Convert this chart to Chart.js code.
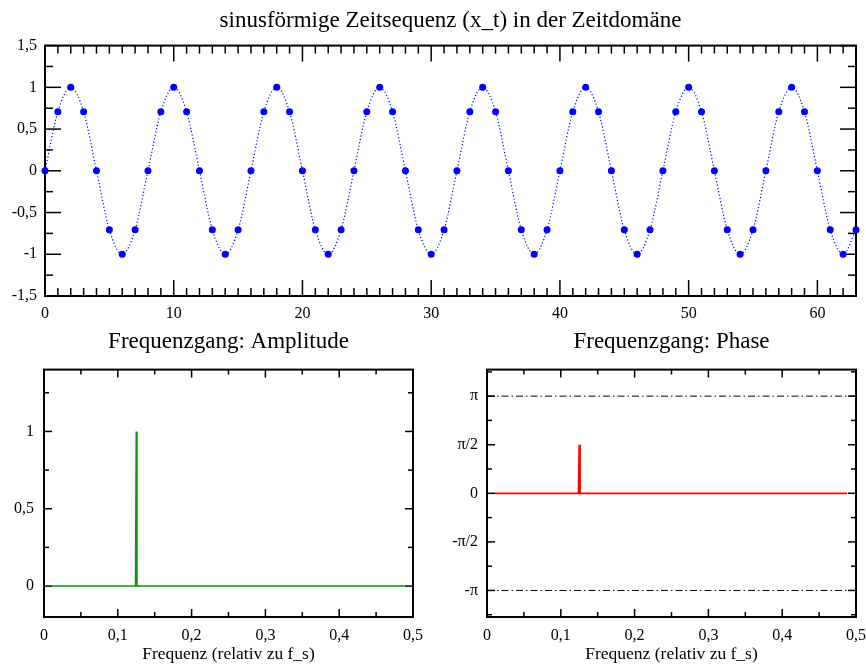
<!DOCTYPE html>
<html>
<head>
<meta charset="utf-8">
<title>Sinus-Zeitsequenz und Frequenzgang</title>
<script src="https://cdn.jsdelivr.net/npm/chart.js@4.4.1/dist/chart.umd.min.js"></script>
<style>
  html, body { margin: 0; padding: 0; background: #fff; }
  #page { position: relative; width: 866px; height: 669px; overflow: hidden; }
  .box { position: absolute; }
  #timeBox  { left: 0;     top: 0;     width: 876px; height: 325px; }
  #ampBox   { left: 0;     top: 325px; width: 433px; height: 344px; }
  #phaseBox { left: 433px; top: 325px; width: 443px; height: 344px; }
</style>
</head>
<body>
<div id="page">
  <div class="box" id="timeBox"><canvas id="timeChart"></canvas></div>
  <div class="box" id="ampBox"><canvas id="ampChart"></canvas></div>
  <div class="box" id="phaseBox"><canvas id="phaseChart"></canvas></div>
</div>
<script>
// ---- data ----
// sample index n and sampled sinusoid x_t (8 samples per period)
const sampleIndex = [
   0,  1,  2,  3,  4,  5,  6,  7,  8,  9, 10, 11, 12, 13, 14, 15,
  16, 17, 18, 19, 20, 21, 22, 23, 24, 25, 26, 27, 28, 29, 30, 31,
  32, 33, 34, 35, 36, 37, 38, 39, 40, 41, 42, 43, 44, 45, 46, 47,
  48, 49, 50, 51, 52, 53, 54, 55, 56, 57, 58, 59, 60, 61, 62, 63
];
const xt = [
  0, 0.7071, 1, 0.7071, 0, -0.7071, -1, -0.7071,
  0, 0.7071, 1, 0.7071, 0, -0.7071, -1, -0.7071,
  0, 0.7071, 1, 0.7071, 0, -0.7071, -1, -0.7071,
  0, 0.7071, 1, 0.7071, 0, -0.7071, -1, -0.7071,
  0, 0.7071, 1, 0.7071, 0, -0.7071, -1, -0.7071,
  0, 0.7071, 1, 0.7071, 0, -0.7071, -1, -0.7071,
  0, 0.7071, 1, 0.7071, 0, -0.7071, -1, -0.7071,
  0, 0.7071, 1, 0.7071, 0, -0.7071, -1, -0.7071
];

// amplitude response over normalised frequency
const ampFreq  = [0.010, 0.124, 0.125, 0.126, 0.489];
const ampValue = [0,     0,     1,     0,     0];

// phase response over normalised frequency
const phaseFreq  = [0.011, 0.124, 0.125,       0.126, 0.488];
const phaseValue = [0,     0,     Math.PI / 2, 0,     0];

// horizontal reference lines at +pi and -pi
const phaseLimitFreq = [0, 0.5];
const phaseLimits    = [Math.PI, -Math.PI];

// tick labels
const timeXTicks  = [0, 10, 20, 30, 40, 50, 60];
const timeYTicks  = [-1.5, -1, -0.5, 0, 0.5, 1, 1.5];
const freqTicks   = [0, 0.1, 0.2, 0.3, 0.4, 0.5];
const ampYTicks   = [0, 0.5, 1];
const phaseYTicks = [-Math.PI, -Math.PI / 2, 0, Math.PI / 2, Math.PI];
const phaseYLabels = ['-π', '-π/2', '0', 'π/2', 'π'];

// ---- helpers ----
const pairs = (xs, ys) => xs.map((v, i) => ({ x: v, y: ys[i] }));
const comma = v => String(Math.round(v * 1000) / 1000).replace('.', ',');
const fixedTicks = values => scale => { scale.ticks = values.map(v => ({ value: v })); };

Chart.defaults.font.family = '"Liberation Serif", "DejaVu Serif", serif';
Chart.defaults.color = '#000';

// frame around the plot area with inward tick marks on all four sides
const frameTicks = {
  id: 'frameTicks',
  beforeDatasetsDraw(chart, args, opts) {
    const { ctx, chartArea: a, scales } = chart;
    const xs = scales.x, ys = scales.y;
    const minorValues = (scale, step) => {
      const out = [];
      if (!step) return out;
      const k0 = Math.ceil(scale.min / step - 1e-9), k1 = Math.floor(scale.max / step + 1e-9);
      for (let k = k0; k <= k1; k++) out.push(k * step);
      return out;
    };
    const isMajor = (scale, v) => scale.ticks.some(t => Math.abs(t.value - v) < 1e-6);
    ctx.save();
    ctx.strokeStyle = '#000';
    ctx.lineWidth = opts.tickWidth;
    const seg = (x0, y0, x1, y1) => { ctx.beginPath(); ctx.moveTo(x0, y0); ctx.lineTo(x1, y1); ctx.stroke(); };
    const tickX = (v, len) => {
      const p = xs.getPixelForValue(v);
      seg(p, a.top, p, a.top + len);
      seg(p, a.bottom, p, a.bottom - len);
    };
    const tickY = (v, len) => {
      const p = ys.getPixelForValue(v);
      seg(a.left, p, a.left + len, p);
      seg(a.right, p, a.right - len, p);
    };
    minorValues(xs, opts.xMinor).forEach(v => { if (!isMajor(xs, v)) tickX(v, opts.minorLen); });
    minorValues(ys, opts.yMinor).forEach(v => { if (!isMajor(ys, v)) tickY(v, opts.minorLen); });
    xs.ticks.forEach(t => tickX(t.value, opts.majorLen));
    ys.ticks.forEach(t => tickY(t.value, opts.majorLen));
    ctx.lineWidth = opts.frameWidth;
    ctx.strokeRect(a.left, a.top, a.right - a.left, a.bottom - a.top);
    ctx.restore();
  }
};

const baseOptions = () => ({
  responsive: true,
  maintainAspectRatio: false,
  animation: false,
  devicePixelRatio: 1,
  events: [],
  plugins: { legend: { display: false }, tooltip: { enabled: false } }
});

const plainAxis = extra => Object.assign({
  type: 'linear',
  grid: { display: false, drawTicks: false },
  border: { display: false }
}, extra);

// title centred over the plot area rather than the whole canvas
const plotTitle = (text, padTop, padBottom) => ({
  display: true,
  fullSize: false,
  text,
  font: { size: 23, weight: 'normal' },
  padding: { top: padTop, bottom: padBottom }
});

// ---- time-domain sequence ----
(function () {
  const opts = baseOptions();
  opts.layout = { padding: { left: 0, right: 20, top: 0, bottom: 0 } };
  opts.plugins.title = plotTitle('sinusförmige Zeitsequenz (x_t) in der Zeitdomäne', 7, 11);
  opts.plugins.frameTicks = { xMinor: 1, yMinor: 0.25, majorLen: 16, minorLen: 8, tickWidth: 1.5, frameWidth: 2 };
  opts.scales = {
    x: plainAxis({
      min: 0, max: 63,
      afterBuildTicks: fixedTicks(timeXTicks),
      afterFit: s => { s.height = 29; },
      ticks: { font: { size: 16 }, padding: 8, maxRotation: 0, autoSkip: false, callback: v => comma(v) }
    }),
    y: plainAxis({
      min: -1.5, max: 1.5,
      afterBuildTicks: fixedTicks(timeYTicks),
      afterFit: s => { s.width = 45; },
      ticks: { font: { size: 16 }, padding: 8, autoSkip: false, callback: v => comma(v) }
    })
  };
  new Chart(document.getElementById('timeChart'), {
    type: 'line',
    data: {
      datasets: [{
        label: 'x_t',
        data: pairs(sampleIndex, xt),
        borderColor: '#0000ff',
        borderWidth: 1.2,
        borderDash: [1.2, 2.2],
        cubicInterpolationMode: 'monotone',
        pointRadius: 3.5,
        pointBorderWidth: 0,
        pointBackgroundColor: '#0000ff',
        clip: false
      }]
    },
    options: opts,
    plugins: [frameTicks]
  });
})();

// ---- amplitude response ----
(function () {
  const opts = baseOptions();
  opts.layout = { padding: { left: 0, right: 20, top: 0, bottom: 0 } };
  opts.plugins.title = plotTitle('Frequenzgang: Amplitude', 3, 14);
  opts.plugins.frameTicks = { xMinor: 0.05, yMinor: 0.25, majorLen: 8, minorLen: 5, tickWidth: 1.5, frameWidth: 2 };
  opts.scales = {
    x: plainAxis({
      min: 0, max: 0.5,
      afterBuildTicks: fixedTicks(freqTicks),
      afterFit: s => { s.height = 52; },
      ticks: { font: { size: 16 }, padding: 9, maxRotation: 0, autoSkip: false, callback: v => comma(v) },
      title: { display: true, text: 'Frequenz (relativ zu f_s)', font: { size: 17.5 }, padding: { top: 0, bottom: 4 } }
    }),
    y: plainAxis({
      min: -0.2, max: 1.4,
      afterBuildTicks: fixedTicks(ampYTicks),
      afterFit: s => { s.width = 44; },
      ticks: { font: { size: 16 }, padding: 10, autoSkip: false, callback: v => comma(v) }
    })
  };
  new Chart(document.getElementById('ampChart'), {
    type: 'line',
    data: {
      datasets: [{
        label: '|H|',
        data: pairs(ampFreq, ampValue),
        borderColor: '#0e920e',
        borderWidth: 1.5,
        pointRadius: 0,
        tension: 0
      }]
    },
    options: opts,
    plugins: [frameTicks]
  });
})();

// ---- phase response ----
(function () {
  const opts = baseOptions();
  opts.layout = { padding: { left: 0, right: 20, top: 0, bottom: 0 } };
  opts.plugins.title = plotTitle('Frequenzgang: Phase', 3, 14);
  opts.plugins.frameTicks = { xMinor: 0.05, yMinor: Math.PI / 4, majorLen: 8, minorLen: 5, tickWidth: 1.5, frameWidth: 2 };
  opts.scales = {
    x: plainAxis({
      min: 0, max: 0.5,
      afterBuildTicks: fixedTicks(freqTicks),
      afterFit: s => { s.height = 52; },
      ticks: { font: { size: 16 }, padding: 9, maxRotation: 0, autoSkip: false, callback: v => comma(v) },
      title: { display: true, text: 'Frequenz (relativ zu f_s)', font: { size: 17.5 }, padding: { top: 0, bottom: 4 } }
    }),
    y: plainAxis({
      min: -4, max: 4,
      afterBuildTicks: fixedTicks(phaseYTicks),
      afterFit: s => { s.width = 54; },
      ticks: { font: { size: 16 }, padding: 9, autoSkip: false,
               callback: (v, i) => phaseYLabels[i] }
    })
  };
  const limitSets = phaseLimits.map(level => ({
    label: 'limit',
    data: pairs(phaseLimitFreq, phaseLimitFreq.map(() => level)),
    borderColor: '#000',
    borderWidth: 1,
    borderDash: [7, 3, 1.5, 3],
    pointRadius: 0
  }));
  new Chart(document.getElementById('phaseChart'), {
    type: 'line',
    data: {
      datasets: limitSets.concat([{
        label: 'arg H',
        data: pairs(phaseFreq, phaseValue),
        borderColor: '#ff0000',
        borderWidth: 1.8,
        pointRadius: 0,
        tension: 0
      }])
    },
    options: opts,
    plugins: [frameTicks]
  });
})();
</script>
</body>
</html>
